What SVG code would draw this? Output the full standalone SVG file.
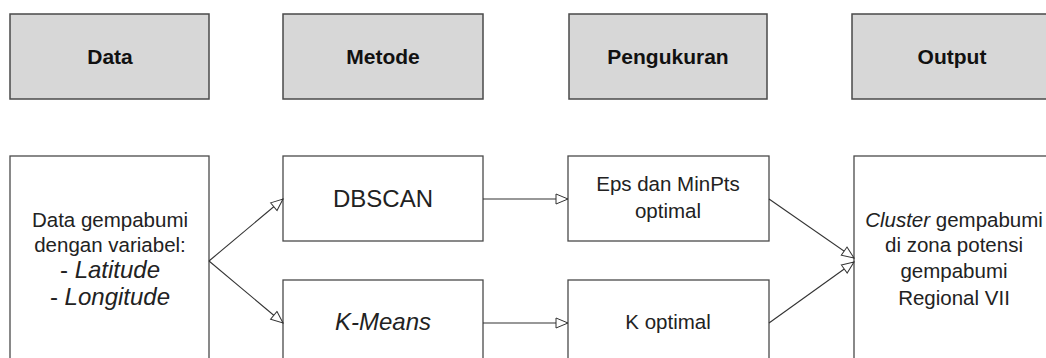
<svg xmlns="http://www.w3.org/2000/svg" width="1046" height="358" viewBox="0 0 1046 358">
<style>
.hdr{fill:#d7d7d7;stroke:#4a4a4a;stroke-width:1.5}
.box{fill:#ffffff;stroke:#4a4a4a;stroke-width:1.3}
.ht{font-family:"Liberation Sans",Arial,sans-serif;font-size:21px;font-weight:bold;fill:#111;text-anchor:middle}
.bt{font-family:"Liberation Sans",Arial,sans-serif;font-size:20.5px;fill:#222;text-anchor:middle}
.big{font-size:24px}
.it{font-style:italic}
.conn{stroke:#333;stroke-width:1.1;fill:none;marker-end:url(#ah)}
</style>
<defs>
<marker id="ah" markerUnits="userSpaceOnUse" markerWidth="16" markerHeight="14" refX="13" refY="6" orient="auto" viewBox="0 0 16 14">
<path d="M1,1 L13,6 L1,11 Z" fill="#fff" stroke="#333" stroke-width="1"/>
</marker>
</defs>
<rect width="1046" height="358" fill="#fff"/>
<g id="h-data"><rect class="hdr" x="10" y="14" width="199" height="85"/><text class="ht" x="110" y="64">Data</text></g>
<g id="h-metode"><rect class="hdr" x="283" y="14" width="200" height="85"/><text class="ht" x="383" y="64">Metode</text></g>
<g id="h-pengukuran"><rect class="hdr" x="569" y="14" width="198" height="85"/><text class="ht" x="668" y="64">Pengukuran</text></g>
<g id="h-output"><rect class="hdr" x="852" y="14" width="200" height="85"/><text class="ht" x="952" y="64">Output</text></g>
<g id="n-data"><rect class="box" x="10" y="156" width="199" height="215"/>
<text class="bt" x="110" y="227">Data gempabumi</text>
<text class="bt" x="110" y="252">dengan variabel:</text>
<text class="bt big" x="110" y="278">- <tspan class="it">Latitude</tspan></text>
<text class="bt big" x="110" y="305">- <tspan class="it">Longitude</tspan></text></g>
<g id="n-dbscan"><rect class="box" x="283" y="156" width="200" height="85"/><text class="bt big" x="383" y="207">DBSCAN</text></g>
<g id="n-kmeans"><rect class="box" x="283" y="280" width="200" height="90"/><text class="bt big it" x="383" y="330">K-Means</text></g>
<g id="n-eps"><rect class="box" x="568" y="156" width="201" height="85"/>
<text class="bt" x="668" y="191">Eps dan MinPts</text>
<text class="bt" x="668" y="218">optimal</text></g>
<g id="n-kopt"><rect class="box" x="568" y="280" width="201" height="90"/><text class="bt" x="668" y="329">K optimal</text></g>
<g id="n-output"><rect class="box" x="854" y="156" width="200" height="215"/>
<text class="bt" x="954" y="227"><tspan class="it">Cluster</tspan> gempabumi</text>
<text class="bt" x="954" y="252">di zona potensi</text>
<text class="bt" x="954" y="278">gempabumi</text>
<text class="bt" x="954" y="305">Regional VII</text></g>
<g id="connectors">
<path class="conn" d="M209,261 L283,199"/>
<path class="conn" d="M209,261 L283,323"/>
<path class="conn" d="M483,199 L568,199"/>
<path class="conn" d="M483,323 L568,323"/>
<path class="conn" d="M769,199 L854,258"/>
<path class="conn" d="M769,323 L854,262"/>
</g>
</svg>
